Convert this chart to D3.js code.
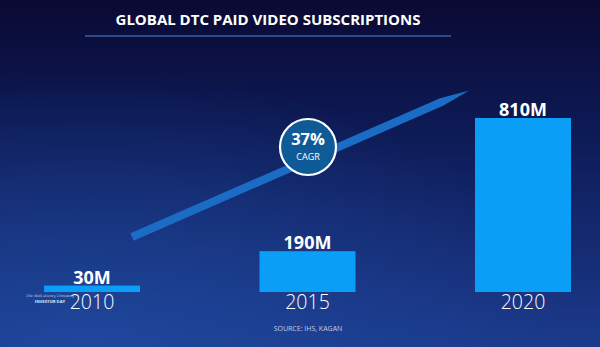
<!DOCTYPE html>
<html>
<head>
<meta charset="utf-8">
<script src="https://cdn.jsdelivr.net/npm/d3@7"></script>
<style>
  html, body { margin: 0; padding: 0; background: #0b0d3a; }
  svg { display: block; }
</style>
</head>
<body>
<script>
// chart data
var years = ["2010", "2015", "2020"];
var subs = [30, 190, 810];            // millions
var subLabels = ["30M", "190M", "810M"];
var cagr = "37%";
var title = "GLOBAL DTC PAID VIDEO SUBSCRIPTIONS";
var source = "SOURCE: IHS, KAGAN";

var width = 600, height = 347;

var svg = d3.select("body").append("svg")
    .attr("width", width)
    .attr("height", height);

var defs = svg.append("defs");

var bg = defs.append("linearGradient")
    .attr("id", "bg")
    .attr("x1", 0).attr("y1", 0).attr("x2", 0).attr("y2", 1);
bg.append("stop").attr("offset", "0%").attr("stop-color", "#0a0a33");
bg.append("stop").attr("offset", "35%").attr("stop-color", "#0d1953");
bg.append("stop").attr("offset", "100%").attr("stop-color", "#1b3a8c");

var glow = defs.append("radialGradient")
    .attr("id", "glow")
    .attr("cx", "0.15").attr("cy", "1").attr("r", "0.8");
glow.append("stop").attr("offset", "0%").attr("stop-color", "#2150a8").attr("stop-opacity", 0.6);
glow.append("stop").attr("offset", "100%").attr("stop-color", "#2150a8").attr("stop-opacity", 0);

svg.append("rect").attr("width", width).attr("height", height).attr("fill", "url(#bg)");
svg.append("rect").attr("width", width).attr("height", height).attr("fill", "url(#glow)");

// title
svg.append("text")
    .attr("x", 268).attr("y", 25)
    .attr("text-anchor", "middle")
    .attr("fill", "#ffffff")
    .style("font-family", "'Open Sans', sans-serif")
    .style("font-weight", 700)
    .style("font-size", "15px")
    .text(title);

svg.append("line")
    .attr("x1", 85).attr("x2", 451)
    .attr("y1", 36).attr("y2", 36)
    .attr("stroke", "#4f86d8")
    .attr("stroke-width", 1.2);

// scales
var x = d3.scalePoint()
    .domain(years)
    .range([92, 523]);

var y = d3.scaleLinear()
    .domain([0, 810])
    .range([292, 118]);

var barW = 96;

// growth arrow (drawn under circle)
var a0 = [132, 237], a1 = [469, 90];
var dx = a1[0] - a0[0], dy = a1[1] - a0[1];
var len = Math.sqrt(dx * dx + dy * dy);
var ux = dx / len, uy = dy / len;
var nx = -uy, ny = ux;
var hw = 4;
var headStart = 30;
var pts = [
  [a0[0] + nx * hw, a0[1] + ny * hw],
  [a1[0] - ux * headStart + nx * hw, a1[1] - uy * headStart + ny * hw],
  [a1[0] + nx * 0.5, a1[1] + ny * 0.5],
  [a1[0] - ux * headStart - nx * hw, a1[1] - uy * headStart - ny * hw],
  [a0[0] - nx * hw, a0[1] - ny * hw]
];
svg.append("path")
    .attr("d", d3.line()(pts) + "Z")
    .attr("fill", "#1a6cc4");

// bars
svg.selectAll(".bar")
    .data(subs)
  .enter().append("rect")
    .attr("class", "bar")
    .attr("x", function(d, i) { return x(years[i]) - barW / 2; })
    .attr("y", function(d) { return y(d); })
    .attr("width", barW)
    .attr("height", function(d) { return y(0) - y(d); })
    .attr("fill", "#0a9ef7");

// value labels
svg.selectAll(".val")
    .data(subs)
  .enter().append("text")
    .attr("class", "val")
    .attr("x", function(d, i) { return x(years[i]); })
    .attr("y", function(d) { return y(d) - 2; })
    .attr("text-anchor", "middle")
    .attr("fill", "#ffffff")
    .style("font-family", "'Open Sans', sans-serif")
    .style("font-weight", 700)
    .style("font-size", "18px")
    .text(function(d, i) { return subLabels[i]; });

// watermark near first bar
svg.append("text")
    .attr("x", 50).attr("y", 297)
    .attr("text-anchor", "middle")
    .attr("fill", "#c8d4ee")
    .style("font-family", "'DejaVu Serif', serif")
    .style("font-style", "italic")
    .style("font-size", "3.6px")
    .text("The Walt Disney Company");
svg.append("text")
    .attr("x", 50).attr("y", 303)
    .attr("text-anchor", "middle")
    .attr("fill", "#dfe6f6")
    .style("font-family", "'Open Sans', sans-serif")
    .style("font-weight", 700)
    .style("font-size", "4.2px")
    .text("INVESTOR DAY");

// year labels
svg.selectAll(".yr")
    .data(years)
  .enter().append("text")
    .attr("class", "yr")
    .attr("x", function(d) { return x(d); })
    .attr("y", 309)
    .attr("text-anchor", "middle")
    .attr("fill", "#ffffff")
    .style("font-family", "'Open Sans', sans-serif")
    .style("font-weight", 300)
    .style("font-size", "19.5px")
    .text(function(d) { return d; });

// CAGR badge
var badge = svg.append("g").attr("transform", "translate(308,147)");
badge.append("circle")
    .attr("r", 28)
    .attr("fill", "#0f5b97")
    .attr("stroke", "#ffffff")
    .attr("stroke-width", 2.2);
badge.append("text")
    .attr("y", -2)
    .attr("text-anchor", "middle")
    .attr("fill", "#ffffff")
    .style("font-family", "'Open Sans', sans-serif")
    .style("font-weight", 700)
    .style("font-size", "16.5px")
    .text(cagr);
badge.append("text")
    .attr("y", 13)
    .attr("text-anchor", "middle")
    .attr("fill", "#ffffff")
    .style("font-family", "'Open Sans', sans-serif")
    .style("font-size", "9px")
    .text("CAGR");

// source
svg.append("text")
    .attr("x", 308).attr("y", 331)
    .attr("text-anchor", "middle")
    .attr("fill", "#c5cde3")
    .style("font-family", "'Open Sans', sans-serif")
    .style("font-size", "7px")
    .text(source);
</script>
</body>
</html>
